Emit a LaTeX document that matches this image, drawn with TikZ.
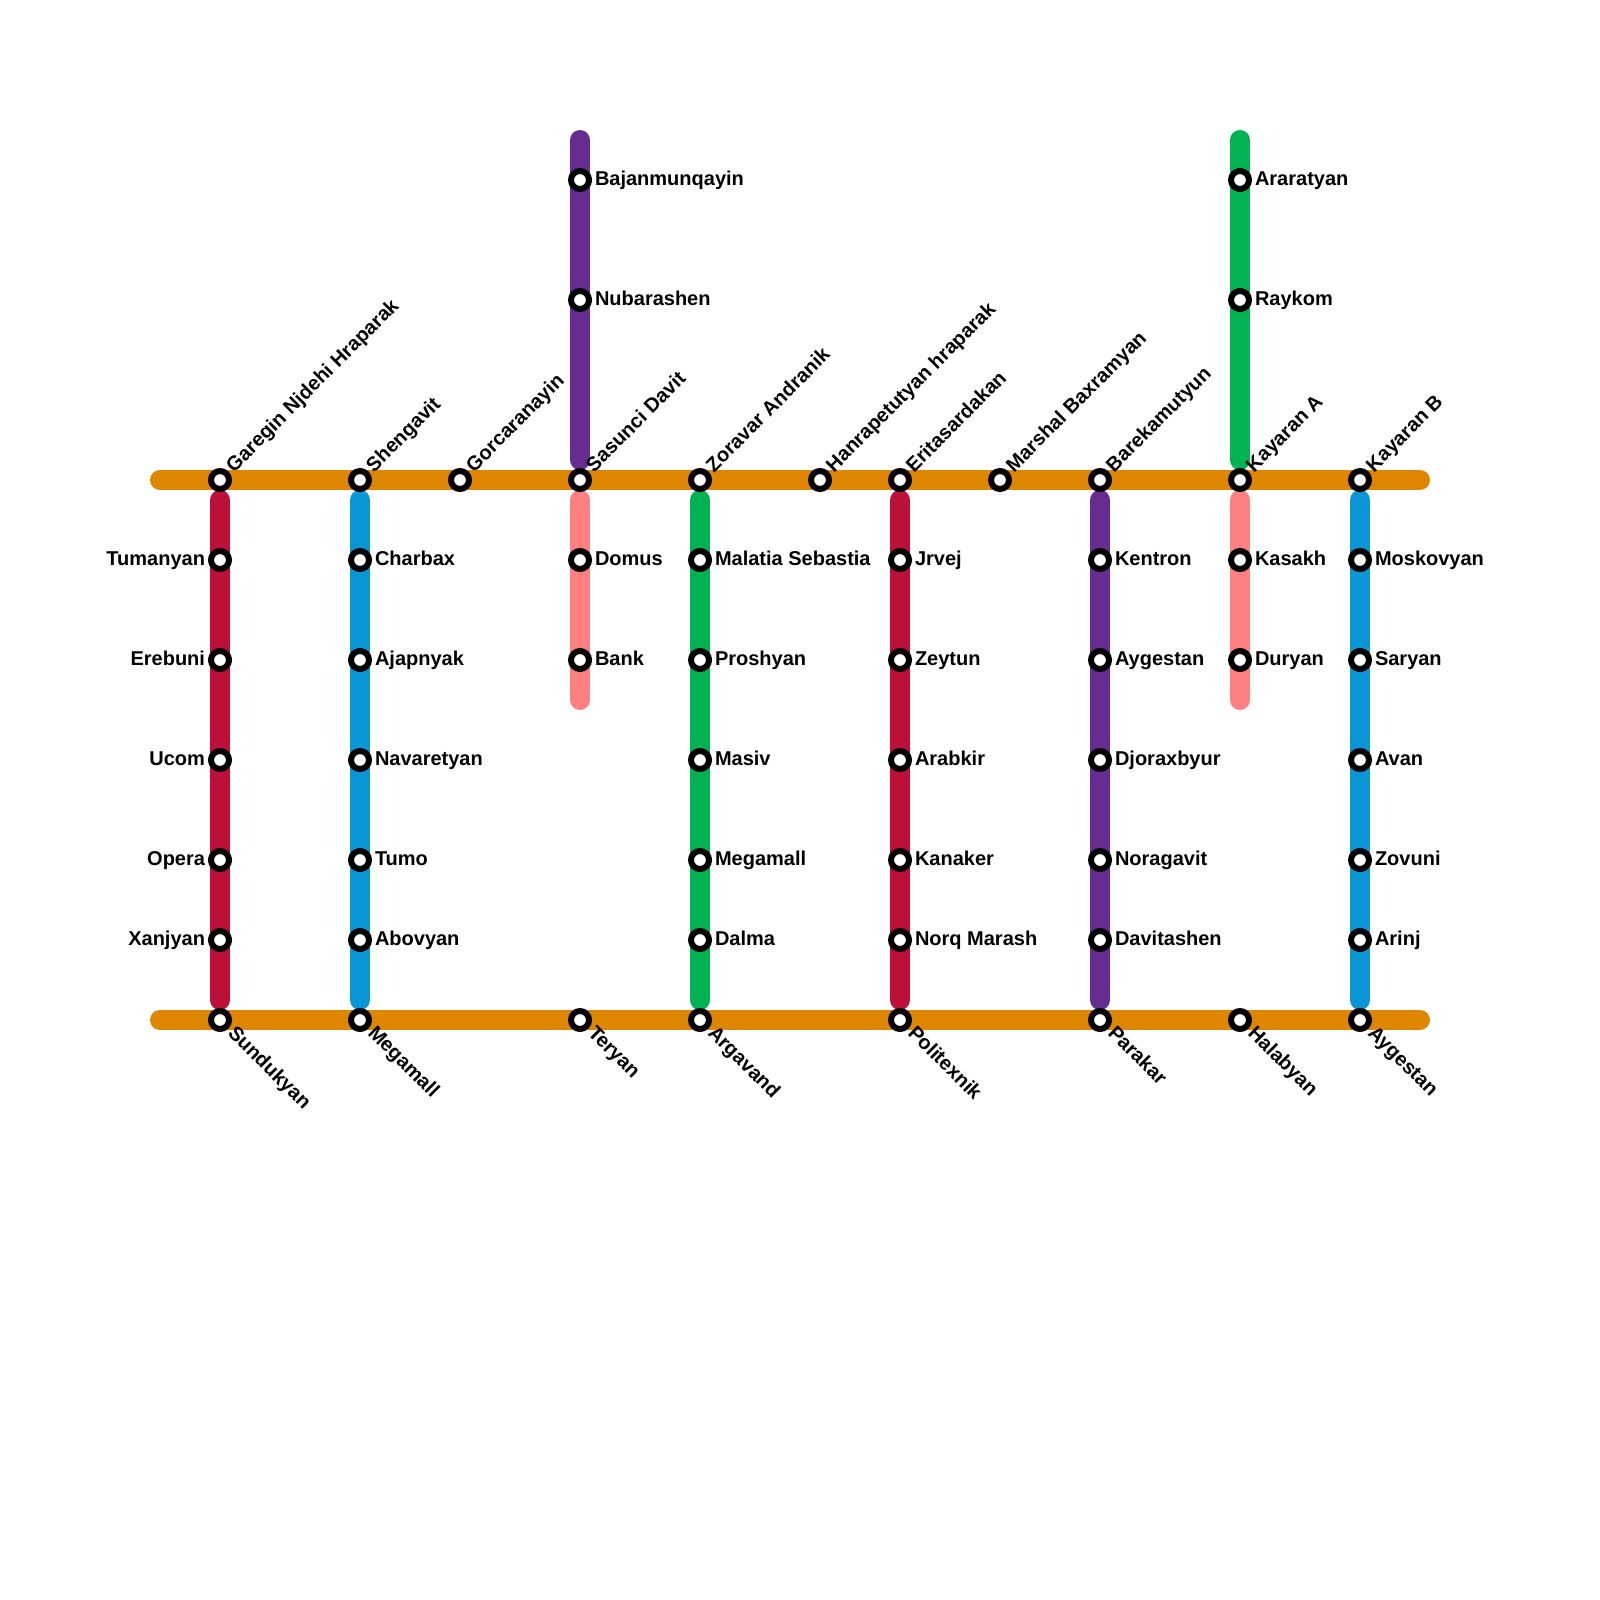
\documentclass[tikz,border=0pt]{standalone}
\usepackage{fontspec}
\setmainfont{Liberation Sans}
\usetikzlibrary{backgrounds}
\definecolor{corange}{HTML}{DF8600}
\definecolor{ccrimson}{HTML}{BD1038}
\definecolor{cblue}{HTML}{0896D7}
\definecolor{cpurple}{HTML}{662C90}
\definecolor{cgreen}{HTML}{00B251}
\definecolor{cpink}{HTML}{FF8080}
\tikzset{
  stn/.style={circle,draw=black,fill=white,line width=3pt,minimum size=9pt,inner sep=0pt,outer sep=0pt},
  lab/.style={inner sep=0pt,outer sep=0pt,font=\fontsize{10}{12}\selectfont\bfseries,text=black},
  lr/.style={lab,anchor=base west},
  ll/.style={lab,anchor=base east},
  lu/.style={lab,anchor=base west,rotate=45},
  ld/.style={lab,anchor=base west,rotate=-45},
  route/.style={line width=10pt,line cap=round,line join=round},
}
\newcommand{\stR}[4]{\node[stn] (#1) at (#2,#3) {}; \node[lr] (#1L) at ({#2+15},{#3+5}) {#4};}
\newcommand{\stL}[4]{\node[stn] (#1) at (#2,#3) {}; \node[ll] (#1L) at ({#2-15},{#3+5}) {#4};}
\newcommand{\stU}[4]{\node[stn] (#1) at (#2,#3) {}; \node[lu] (#1L) at ({#2+14},{#3-7}) {#4};}
\newcommand{\stD}[4]{\node[stn] (#1) at (#2,#3) {}; \node[ld] (#1L) at ({#2+7},{#3+14}) {#4};}
\begin{document}
\begin{tikzpicture}[x=0.5pt,y=-0.5pt]
\useasboundingbox (0,0) rectangle (1600,1600);
% top row
\stU{a}{220}{480}{Garegin Njdehi Hraparak}
\stU{b}{360}{480}{Shengavit}
\stU{c}{460}{480}{Gorcaranayin}
\stU{d}{580}{480}{Sasunci Davit}
\stU{e}{700}{480}{Zoravar Andranik}
\stU{f}{820}{480}{Hanrapetutyan hraparak}
\stU{g}{900}{480}{Eritasardakan}
\stU{h}{1000}{480}{Marshal Baxramyan}
\stU{i}{1100}{480}{Barekamutyun}
\stU{j}{1240}{480}{Kayaran A}
\stU{k}{1360}{480}{Kayaran B}
% bottom row
\stD{az}{220}{1020}{Sundukyan}
\stD{bz}{360}{1020}{Megamall}
\stD{dz}{580}{1020}{Teryan}
\stD{ez}{700}{1020}{Argavand}
\stD{gz}{900}{1020}{Politexnik}
\stD{iz}{1100}{1020}{Parakar}
\stD{jz}{1240}{1020}{Halabyan}
\stD{kz}{1360}{1020}{Aygestan}
% crimson 1
\stL{a1}{220}{560}{Tumanyan}
\stL{a2}{220}{660}{Erebuni}
\stL{a3}{220}{760}{Ucom}
\stL{a4}{220}{860}{Opera}
\stL{a5}{220}{940}{Xanjyan}
% blue 1
\stR{b1}{360}{560}{Charbax}
\stR{b2}{360}{660}{Ajapnyak}
\stR{b3}{360}{760}{Navaretyan}
\stR{b4}{360}{860}{Tumo}
\stR{b5}{360}{940}{Abovyan}
% purple top
\stR{p1}{580}{180}{Bajanmunqayin}
\stR{p2}{580}{300}{Nubarashen}
% pink 1
\stR{d1}{580}{560}{Domus}
\stR{d2}{580}{660}{Bank}
% green 1
\stR{e1}{700}{560}{Malatia Sebastia}
\stR{e2}{700}{660}{Proshyan}
\stR{e3}{700}{760}{Masiv}
\stR{e4}{700}{860}{Megamall}
\stR{e5}{700}{940}{Dalma}
% crimson 2
\stR{g1}{900}{560}{Jrvej}
\stR{g2}{900}{660}{Zeytun}
\stR{g3}{900}{760}{Arabkir}
\stR{g4}{900}{860}{Kanaker}
\stR{g5}{900}{940}{Norq Marash}
% purple 2
\stR{i1}{1100}{560}{Kentron}
\stR{i2}{1100}{660}{Aygestan}
\stR{i3}{1100}{760}{Djoraxbyur}
\stR{i4}{1100}{860}{Noragavit}
\stR{i5}{1100}{940}{Davitashen}
% green top
\stR{q1}{1240}{180}{Araratyan}
\stR{q2}{1240}{300}{Raykom}
% pink 2
\stR{j1}{1240}{560}{Kasakh}
\stR{j2}{1240}{660}{Duryan}
% blue 2
\stR{k1}{1360}{560}{Moskovyan}
\stR{k2}{1360}{660}{Saryan}
\stR{k3}{1360}{760}{Avan}
\stR{k4}{1360}{860}{Zovuni}
\stR{k5}{1360}{940}{Arinj}
% free line ends
\coordinate (tw) at (160,480); \coordinate (te) at (1420,480);
\coordinate (bw) at (160,1020); \coordinate (be) at (1420,1020);
\coordinate (as) at (220,500); \coordinate (ae) at (220,1000);
\coordinate (bs) at (360,500); \coordinate (be2) at (360,1000);
\coordinate (ps) at (580,140); \coordinate (pe) at (580,460);
\coordinate (ds) at (580,500); \coordinate (de) at (580,700);
\coordinate (es) at (700,500); \coordinate (ee) at (700,1000);
\coordinate (gs) at (900,500); \coordinate (ge) at (900,1000);
\coordinate (is) at (1100,500); \coordinate (ie) at (1100,1000);
\coordinate (qs) at (1240,140); \coordinate (qe) at (1240,460);
\coordinate (js) at (1240,500); \coordinate (je) at (1240,700);
\coordinate (ks) at (1360,500); \coordinate (ke) at (1360,1000);
\begin{pgfonlayer}{background}
\draw[route,ccrimson] (as) -- (a1.center) -- (a2.center) -- (a3.center) -- (a4.center) -- (a5.center) -- (ae);
\draw[route,cblue] (bs) -- (b1.center) -- (b2.center) -- (b3.center) -- (b4.center) -- (b5.center) -- (be2);
\draw[route,cpurple] (ps) -- (p1.center) -- (p2.center) -- (pe);
\draw[route,cpink] (ds) -- (d1.center) -- (d2.center) -- (de);
\draw[route,cgreen] (es) -- (e1.center) -- (e2.center) -- (e3.center) -- (e4.center) -- (e5.center) -- (ee);
\draw[route,ccrimson] (gs) -- (g1.center) -- (g2.center) -- (g3.center) -- (g4.center) -- (g5.center) -- (ge);
\draw[route,cpurple] (is) -- (i1.center) -- (i2.center) -- (i3.center) -- (i4.center) -- (i5.center) -- (ie);
\draw[route,cgreen] (qs) -- (q1.center) -- (q2.center) -- (qe);
\draw[route,cpink] (js) -- (j1.center) -- (j2.center) -- (je);
\draw[route,cblue] (ks) -- (k1.center) -- (k2.center) -- (k3.center) -- (k4.center) -- (k5.center) -- (ke);
\draw[route,corange] (tw) -- (a.center) -- (b.center) -- (c.center) -- (d.center) -- (e.center) -- (f.center) -- (g.center) -- (h.center) -- (i.center) -- (j.center) -- (k.center) -- (te);
\draw[route,corange] (bw) -- (az.center) -- (bz.center) -- (dz.center) -- (ez.center) -- (gz.center) -- (iz.center) -- (jz.center) -- (kz.center) -- (be);
\end{pgfonlayer}
\end{tikzpicture}
\end{document}
